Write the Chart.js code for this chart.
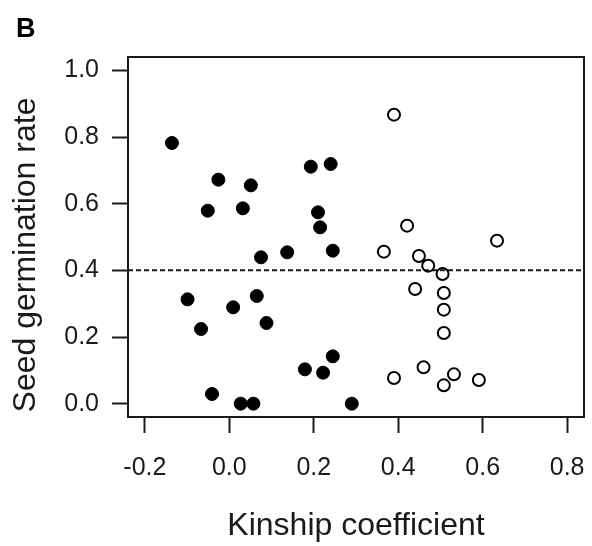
<!DOCTYPE html>
<html>
<head>
<meta charset="utf-8">
<script src="https://cdn.jsdelivr.net/npm/chart.js@4/dist/chart.umd.min.js"></script>
<style>
  body { margin: 0; background: #fff; }
  #wrap { width: 592px; height: 546px; }
</style>
</head>
<body>
<div id="wrap"><canvas id="scatterCanvas"></canvas></div>
<script>
// kinship coefficient (x) vs seed germination rate (y)
var filledX = [-0.136, -0.026, 0.051, -0.051, 0.032, 0.075, 0.137, -0.099, 0.009, 0.065, -0.067, 0.088,
               -0.041, 0.027, 0.057, 0.290, 0.193, 0.240, 0.210, 0.215, 0.245, 0.179, 0.222, 0.245];
var filledY = [0.782, 0.672, 0.655, 0.579, 0.586, 0.439, 0.454, 0.313, 0.289, 0.323, 0.224, 0.242,
               0.029, 0.000, 0.000, 0.000, 0.711, 0.719, 0.574, 0.529, 0.459, 0.103, 0.093, 0.142];
var openX = [0.390, 0.421, 0.634, 0.366, 0.449, 0.471, 0.505, 0.440, 0.508, 0.508, 0.508, 0.460,
             0.390, 0.532, 0.508, 0.591];
var openY = [0.867, 0.534, 0.489, 0.456, 0.443, 0.414, 0.389, 0.344, 0.332, 0.282, 0.212, 0.109,
             0.077, 0.088, 0.055, 0.071];
var xTicks = [-0.2, 0.0, 0.2, 0.4, 0.6, 0.8];
var yTicks = [0.0, 0.2, 0.4, 0.6, 0.8, 1.0];
var threshold = 0.4;

function toPoints(xs, ys) {
  return xs.map(function (x, i) { return { x: x, y: ys[i] }; });
}

var ink = '#1a1a1a';
var fontFamily = '"Liberation Sans", Arial, Helvetica, sans-serif';

// box, dashed reference line, y title and panel letter
var extras = {
  id: 'extras',
  beforeDatasetsDraw: function (chart) {
    var ctx = chart.ctx, a = chart.chartArea;
    var yPix = chart.scales.y.getPixelForValue(threshold);
    ctx.save();
    ctx.strokeStyle = ink;
    ctx.lineWidth = 2;
    ctx.setLineDash([5, 3]);
    ctx.beginPath();
    ctx.moveTo(a.left, yPix);
    ctx.lineTo(a.right, yPix);
    ctx.stroke();
    ctx.restore();
  },
  afterDraw: function (chart) {
    var ctx = chart.ctx, a = chart.chartArea;
    ctx.save();
    ctx.strokeStyle = ink;
    ctx.lineWidth = 2;
    ctx.strokeRect(a.left, a.top, a.right - a.left, a.bottom - a.top);

    ctx.fillStyle = ink;
    ctx.font = '32px ' + fontFamily;
    ctx.textAlign = 'center';
    ctx.textBaseline = 'middle';
    ctx.translate(26, 255);
    ctx.rotate(-Math.PI / 2);
    ctx.fillText('Seed germination rate', 0, 0);
    ctx.restore();

    ctx.save();
    ctx.fillStyle = '#000';
    ctx.font = 'bold 27px ' + fontFamily;
    ctx.textAlign = 'left';
    ctx.textBaseline = 'alphabetic';
    ctx.fillText('B', 16, 37);
    ctx.restore();
  }
};

var ctx = document.getElementById('scatterCanvas').getContext('2d');
var scatterChart = new Chart(ctx, {
  type: 'scatter',
  data: {
    datasets: [{
      data: toPoints(filledX, filledY),
      pointRadius: 6.5,
      pointBorderWidth: 1,
      pointBackgroundColor: '#000',
      pointBorderColor: '#000'
    }, {
      data: toPoints(openX, openY),
      pointRadius: 6,
      pointBorderWidth: 2,
      pointBackgroundColor: 'rgba(255,255,255,0)',
      pointBorderColor: '#000'
    }]
  },
  options: {
    responsive: true,
    maintainAspectRatio: false,
    animation: false,
    events: [],
    layout: { padding: { left: 0, top: 57, right: 7, bottom: 0 } },
    plugins: { legend: { display: false }, tooltip: { enabled: false } },
    scales: {
      x: {
        type: 'linear',
        min: -0.24,
        max: 0.84,
        afterFit: function (scale) {
          scale.height = 129;
          scale.paddingLeft = 0;
          scale.paddingRight = 0;
        },
        afterBuildTicks: function (scale) { scale.ticks = xTicks.map(function (v) { return { value: v }; }); },
        grid: { drawOnChartArea: false, drawTicks: true, tickLength: 16, tickWidth: 2, tickColor: ink },
        border: { display: true, color: ink, width: 2 },
        ticks: {
          color: ink,
          padding: 20,
          font: { family: fontFamily, size: 25 },
          callback: function (v) { return v.toFixed(1); }
        },
        title: {
          display: true,
          text: 'Kinship coefficient',
          color: ink,
          font: { family: fontFamily, size: 32 },
          padding: { top: 0, bottom: 1 }
        }
      },
      y: {
        type: 'linear',
        min: -0.04,
        max: 1.04,
        afterFit: function (scale) {
          scale.width = 128;
          scale.paddingTop = 0;
          scale.paddingBottom = 0;
        },
        afterBuildTicks: function (scale) { scale.ticks = yTicks.map(function (v) { return { value: v }; }); },
        grid: { drawOnChartArea: false, drawTicks: true, tickLength: 16, tickWidth: 2, tickColor: ink },
        border: { display: true, color: ink, width: 2 },
        ticks: {
          color: ink,
          padding: 13,
          font: { family: fontFamily, size: 25 },
          callback: function (v) { return v.toFixed(1); }
        }
      }
    }
  },
  plugins: [extras]
});
</script>
</body>
</html>
